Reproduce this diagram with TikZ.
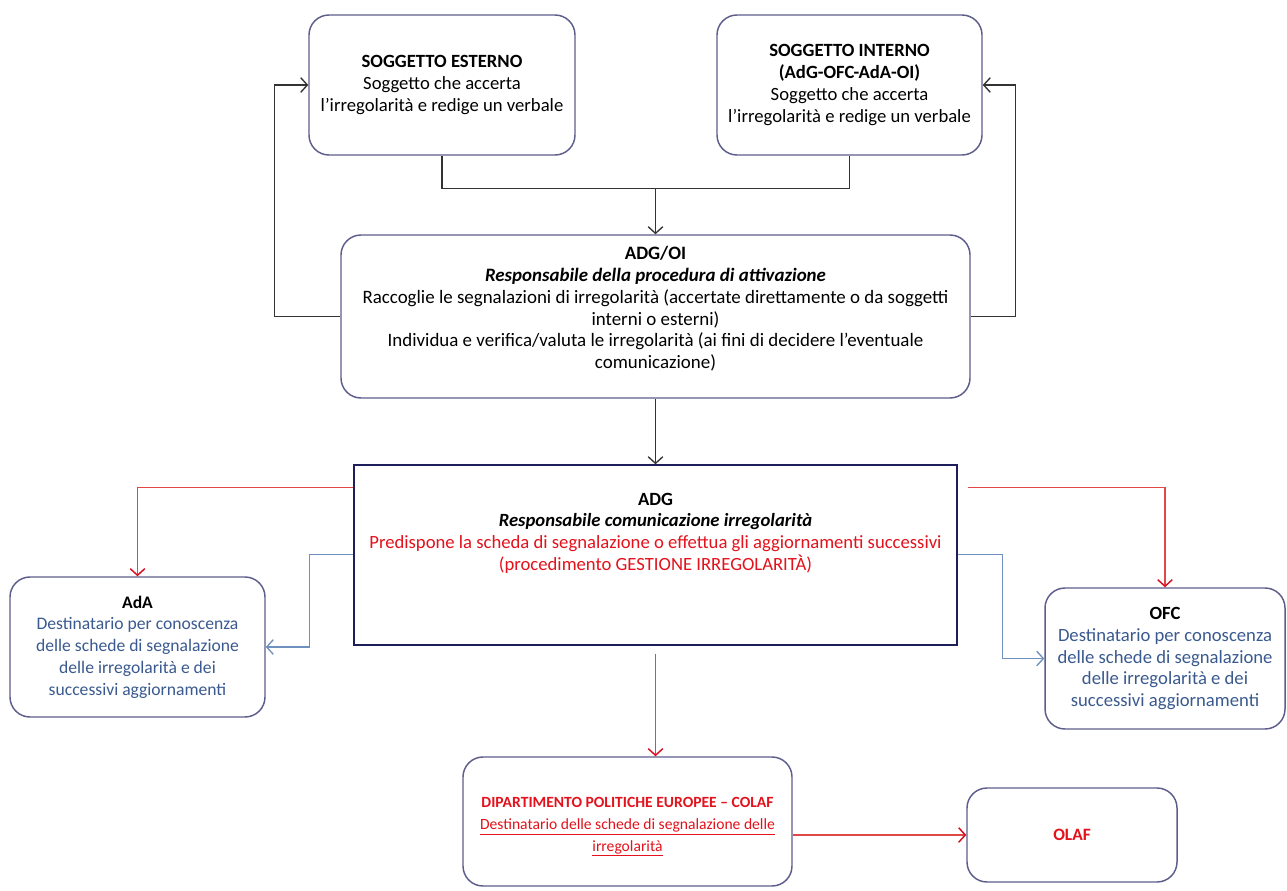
\documentclass[tikz,border=0pt]{standalone}
\usepackage{fontspec}
\setmainfont{Carlito}
\usetikzlibrary{arrows.meta,calc}
\definecolor{boxline}{HTML}{5E5E8C}
\definecolor{adgline}{HTML}{1E1E5A}
\definecolor{darkline}{HTML}{333333}
\definecolor{redtxt}{HTML}{E3121C}
\definecolor{redline}{HTML}{E04848}
\definecolor{redtip}{HTML}{D81020}
\definecolor{blueline}{HTML}{7090C0}
\definecolor{bluetxt}{HTML}{3A5A8F}
\begin{document}
\begin{tikzpicture}[x=0.75pt,y=-0.75pt,
  txt/.style={font={\fontsize{14}{16.3}\selectfont}, align=center, inner sep=0pt},
  smalltxt/.style={font={\fontsize{13.2}{16.3}\selectfont}},
  diptxtstyle/.style={font={\fontsize{11.7}{16.3}\selectfont}},
  rbox/.style={draw=boxline, line width=1.1pt, rounded corners=15pt, fill=white, txt},
  sqbox/.style={draw=adgline, line width=1.1pt, fill=white},
  blk/.style={draw=darkline, line width=0.8pt},
  blkarr/.style={blk, -{Straight Barb[length=5pt,width=11pt,line width=1pt]}},
  redarr/.style={draw=redline, line width=0.9pt, -{Straight Barb[length=5pt,width=11pt,line width=1.1pt,color=redtip]}},
  bluearr/.style={draw=blueline, line width=0.9pt, -{Straight Barb[length=5pt,width=11pt,line width=1pt]}}
]
\useasboundingbox[fill=white] (0,0) rectangle (1287,891);

% boxes
\node[rbox, minimum width=199.5pt, minimum height=105pt] (se) at (442,85)
  {\textbf{SOGGETTO ESTERNO}\\Soggetto che accerta\\l’irregolarità e redige un verbale};
\node[rbox, minimum width=198.75pt, minimum height=105pt] (si) at (849.5,85)
  {\textbf{SOGGETTO INTERNO}\\\textbf{(AdG-OFC-AdA-OI)}\\Soggetto che accerta\\l’irregolarità e redige un verbale};
\node[rbox, minimum width=471.75pt, minimum height=122.25pt] (adgoi) at (655.5,316.5) {};
\node[txt, font={\fontsize{14.2}{16.3}\selectfont}] (adgoitxt) at (655.5,309)
  {\textbf{ADG/OI}\\\textbf{\itshape Responsabile della procedura di attivazione}\\
   Raccoglie le segnalazioni di irregolarità (accertate direttamente o da soggetti\\
   interni o esterni)\\
   Individua e verifica/valuta le irregolarità (ai fini di decidere l’eventuale\\
   comunicazione)};
\node[sqbox, minimum width=452.25pt, minimum height=135pt] (adg) at (655.5,555) {};
\node[txt] (adgtxt) at (655.5,533)
  {\textbf{ADG}\\\textbf{\itshape Responsabile comunicazione irregolarità}\\
   \color{redtxt}Predispone la scheda di segnalazione o effettua gli aggiornamenti successivi\\
   \color{redtxt}(procedimento GESTIONE IRREGOLARITÀ)};
\node[rbox, smalltxt, minimum width=191.25pt, minimum height=105pt] (ada) at (137.5,647)
  {\textbf{AdA}\\\color{bluetxt}Destinatario per conoscenza\\\color{bluetxt}delle schede di segnalazione\\\color{bluetxt}delle irregolarità e dei\\\color{bluetxt}successivi aggiornamenti};
\node[rbox, minimum width=180pt, minimum height=105.75pt] (ofc) at (1165,658.5)
  {\textbf{OFC}\\\color{bluetxt}Destinatario per conoscenza\\\color{bluetxt}delle schede di segnalazione\\\color{bluetxt}delle irregolarità e dei\\\color{bluetxt}successivi aggiornamenti};
\node[rbox, minimum width=246.75pt, minimum height=96.75pt] (dip) at (627.5,821.5) {};
\node[txt, diptxtstyle, text=redtxt] (diptxt) at (627.5,827)
  {\textbf{DIPARTIMENTO POLITICHE EUROPEE – COLAF}\\\underline{Destinatario delle schede di segnalazione delle}\\\underline{irregolarità}};
\node[rbox, minimum width=157.5pt, minimum height=70.5pt, text=redtxt, font={\fontsize{13}{16}\selectfont}] (olaf) at (1072,835) {\textbf{OLAF}};

% top connectors
\coordinate (join) at ($(adgoi.north)+(0,-46)$);
\draw[blk] (se.south) |- (join) -| (si.south);
\draw[blkarr] (join) -- (adgoi.north);
\draw[blkarr] (adgoi.west) -- ++(-66,0) |- (se.west);
\draw[blkarr] (adgoi.east) -- ++(45,0) |- (si.east);
\draw[blkarr] (adgoi.south) -- (adg.north);

% red connectors
\coordinate (rl) at ($(adg.north west)+(0,23)$);
\coordinate (rr) at ($(adg.north east)+(10,23)$);
\draw[redarr] (rl) -| (ada.north);
\draw[redarr] (rr) -| (ofc.north);
\coordinate (rd) at ($(adg.south)+(0,8)$);
\draw[redarr] (rd) -- (rd |- dip.north);
\draw[redarr] (dip.east |- olaf.west) -- (olaf.west);

% blue connectors
\coordinate (bl) at ($(adg.north west)+(0,90)$);
\coordinate (br) at ($(adg.north east)+(0,90)$);
\draw[bluearr] (bl) -- ++(-44,0) |- (ada.east);
\draw[bluearr] (br) -- ++(45,0) |- (ofc.west);
\end{tikzpicture}
\end{document}
